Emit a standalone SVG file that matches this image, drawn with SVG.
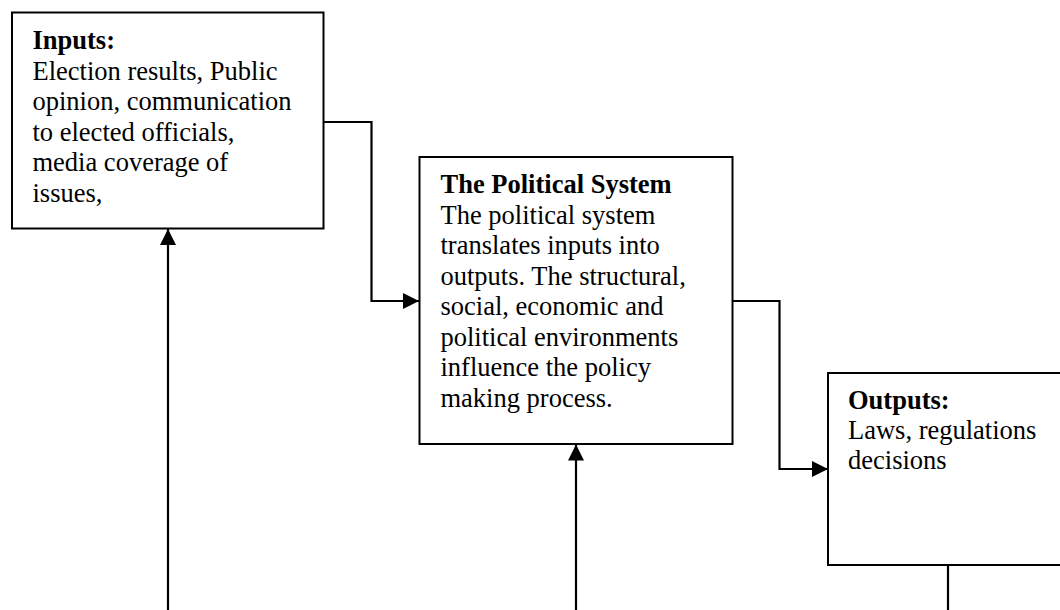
<svg xmlns="http://www.w3.org/2000/svg" width="1060" height="610" viewBox="0 0 1060 610">
  <style>
    .box { fill: #ffffff; stroke: #000000; stroke-width: 2; }
    .wire { fill: none; stroke: #000000; stroke-width: 2.2; }
    text { font-family: "Liberation Serif", "Times New Roman", serif; font-size: 26.5px; fill: #000000; }
    .title { font-weight: bold; }
  </style>
  <defs>
    <marker id="arrow" viewBox="0 0 16 16" refX="16" refY="8" markerWidth="16" markerHeight="16" markerUnits="userSpaceOnUse" orient="auto">
      <path d="M0,0 L16,8 L0,16 Z" fill="#000000"/>
    </marker>
  </defs>

  <rect width="1060" height="610" fill="#ffffff"/>

  <!-- connectors -->
  <g id="connectors">
    <path class="wire" d="M323,122 H371.5 V301 H419" marker-end="url(#arrow)"/>
    <path class="wire" d="M732,301 H779.5 V469 H828" marker-end="url(#arrow)"/>
    <path class="wire" d="M168,610 V229" marker-end="url(#arrow)"/>
    <path class="wire" d="M576,610 V444.5" marker-end="url(#arrow)"/>
    <path class="wire" d="M948,565 V610"/>
  </g>

  <!-- inputs -->
  <g id="inputs">
    <rect class="box" x="12" y="12.5" width="311.5" height="216"/>
    <text x="32.5" y="49" class="title">Inputs:</text>
    <text x="32.5" y="79.5">Election results, Public</text>
    <text x="32.5" y="110">opinion, communication</text>
    <text x="32.5" y="140.5">to elected officials,</text>
    <text x="32.5" y="171">media coverage of</text>
    <text x="32.5" y="201.5">issues,</text>
  </g>

  <!-- political system -->
  <g id="political-system">
    <rect class="box" x="419.5" y="157" width="313" height="287"/>
    <text x="440.5" y="193" class="title">The Political System</text>
    <text x="440.5" y="223.5">The political system</text>
    <text x="440.5" y="254">translates inputs into</text>
    <text x="440.5" y="284.5">outputs. The structural,</text>
    <text x="440.5" y="315">social, economic and</text>
    <text x="440.5" y="345.5">political environments</text>
    <text x="440.5" y="376">influence the policy</text>
    <text x="440.5" y="406.5">making process.</text>
  </g>

  <!-- outputs -->
  <g id="outputs">
    <rect class="box" x="828" y="373" width="260" height="192"/>
    <text x="848" y="409" class="title">Outputs:</text>
    <text x="848" y="439">Laws, regulations</text>
    <text x="848" y="469">decisions</text>
  </g>
</svg>
